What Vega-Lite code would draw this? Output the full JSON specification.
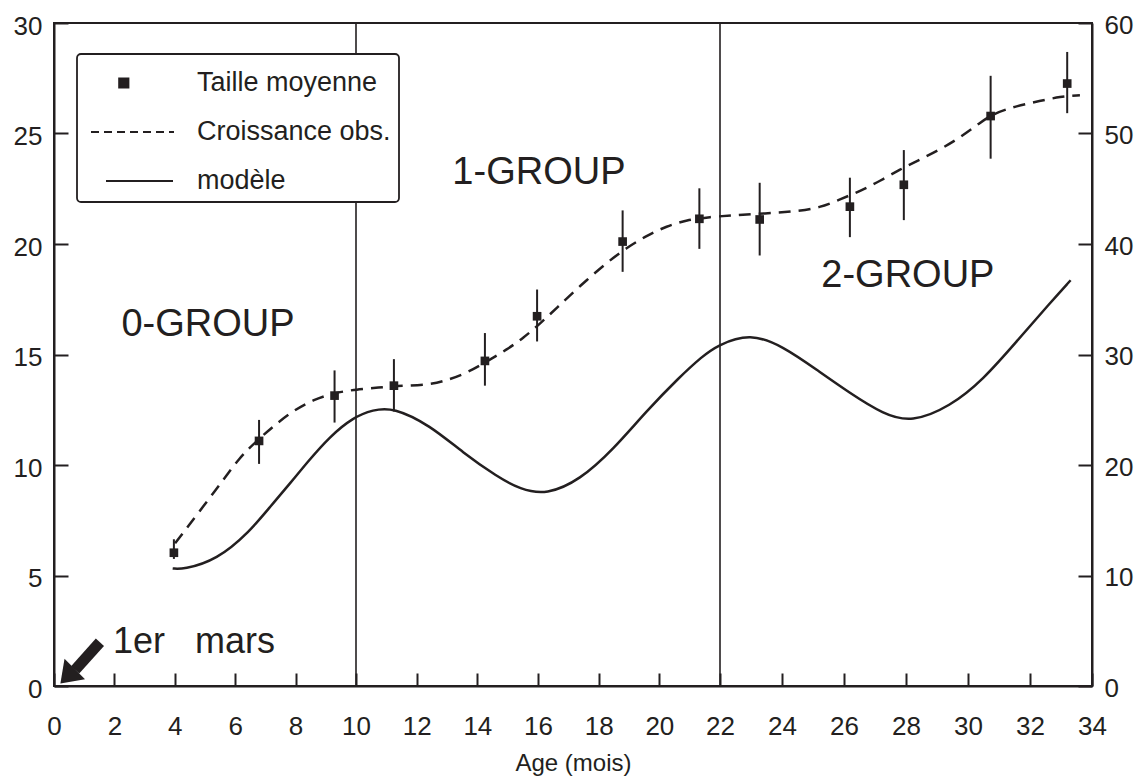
{
  "$schema": "https://vega.github.io/schema/vega-lite/v6.json",
  "width": 1038,
  "height": 663,
  "autosize": {"type": "none"},
  "padding": {"left": 54, "top": 23, "right": 52, "bottom": 96},
  "background": "white",
  "config": {
    "view": {"stroke": "#231f20", "strokeWidth": 2},
    "axis": {
      "domainColor": "#231f20", "domainWidth": 2,
      "tickColor": "#231f20", "tickWidth": 2,
      "labelColor": "#231f20", "labelFont": "Liberation Sans", "labelFontSize": 26,
      "titleColor": "#231f20", "titleFont": "Liberation Sans", "titleFontSize": 24, "titleFontWeight": "normal",
      "grid": false, "labelOverlap": false
    },
    "legend": {
      "orient": "none", "legendX": 23, "legendY": 31,
      "padding": 8, "rowPadding": 15,
      "symbolSize": 1600, "symbolOffset": 0, "labelOffset": 70,
      "labelFont": "Liberation Sans", "labelFontSize": 27, "labelColor": "#231f20", "labelLimit": 400,
      "strokeColor": "#231f20", "fillColor": "white", "cornerRadius": 4,
      "symbolStrokeWidth": 2.5
    }
  },
  "datasets": {
    "pts": [
      {"age": 3.97, "taille": 6.03, "lo": 5.75, "hi": 6.64},
      {"age": 6.79, "taille": 11.09, "lo": 10.05, "hi": 12.04},
      {"age": 9.29, "taille": 13.14, "lo": 11.92, "hi": 14.28},
      {"age": 11.25, "taille": 13.59, "lo": 12.42, "hi": 14.79},
      {"age": 14.25, "taille": 14.71, "lo": 13.59, "hi": 15.97},
      {"age": 15.97, "taille": 16.73, "lo": 15.59, "hi": 17.94},
      {"age": 18.79, "taille": 20.11, "lo": 18.74, "hi": 21.52},
      {"age": 21.32, "taille": 21.14, "lo": 19.78, "hi": 22.52},
      {"age": 23.28, "taille": 21.11, "lo": 19.48, "hi": 22.77},
      {"age": 26.19, "taille": 21.69, "lo": 20.31, "hi": 23.0},
      {"age": 27.93, "taille": 22.68, "lo": 21.08, "hi": 24.25},
      {"age": 30.73, "taille": 25.79, "lo": 23.86, "hi": 27.61},
      {"age": 33.2, "taille": 27.26, "lo": 25.92, "hi": 28.69}
    ],
    "obs": [
      {"age": 4.01, "taille": 6.46},
      {"age": 5.43, "taille": 8.99},
      {"age": 6.16, "taille": 10.38},
      {"age": 6.79, "taille": 11.18},
      {"age": 7.25, "taille": 11.74},
      {"age": 7.91, "taille": 12.45},
      {"age": 8.58, "taille": 12.95},
      {"age": 9.29, "taille": 13.27},
      {"age": 10.02, "taille": 13.42},
      {"age": 10.79, "taille": 13.51},
      {"age": 11.25, "taille": 13.57},
      {"age": 12.44, "taille": 13.63},
      {"age": 12.99, "taille": 13.83},
      {"age": 13.65, "taille": 14.16},
      {"age": 14.31, "taille": 14.68},
      {"age": 14.97, "taille": 15.22},
      {"age": 15.52, "taille": 15.75},
      {"age": 16.07, "taille": 16.4},
      {"age": 16.62, "taille": 17.11},
      {"age": 17.38, "taille": 18.1},
      {"age": 18.26, "taille": 19.15},
      {"age": 18.92, "taille": 19.83},
      {"age": 19.58, "taille": 20.37},
      {"age": 20.24, "taille": 20.81},
      {"age": 20.9, "taille": 21.08},
      {"age": 21.67, "taille": 21.23},
      {"age": 22.43, "taille": 21.29},
      {"age": 23.07, "taille": 21.36},
      {"age": 23.83, "taille": 21.41},
      {"age": 24.47, "taille": 21.49},
      {"age": 25.23, "taille": 21.64},
      {"age": 25.87, "taille": 22.02},
      {"age": 26.52, "taille": 22.39},
      {"age": 27.16, "taille": 22.85},
      {"age": 27.81, "taille": 23.38},
      {"age": 28.35, "taille": 23.75},
      {"age": 29.1, "taille": 24.28},
      {"age": 29.74, "taille": 24.81},
      {"age": 30.39, "taille": 25.49},
      {"age": 30.82, "taille": 25.9},
      {"age": 31.57, "taille": 26.25},
      {"age": 32.32, "taille": 26.47},
      {"age": 32.97, "taille": 26.67},
      {"age": 33.61, "taille": 26.73}
    ],
    "model": [
      {"age": 3.93, "val": 10.64},
      {"age": 4.27, "val": 10.55},
      {"age": 5.39, "val": 11.4},
      {"age": 6.49, "val": 14.0},
      {"age": 7.15, "val": 16.2},
      {"age": 7.87, "val": 18.5},
      {"age": 8.37, "val": 20.2},
      {"age": 9.14, "val": 22.6},
      {"age": 9.9, "val": 24.3},
      {"age": 10.56, "val": 25.0},
      {"age": 11.22, "val": 25.22},
      {"age": 12.44, "val": 23.6},
      {"age": 13.53, "val": 21.1},
      {"age": 14.65, "val": 18.95},
      {"age": 15.41, "val": 17.8},
      {"age": 16.29, "val": 17.3},
      {"age": 17.38, "val": 18.65},
      {"age": 18.47, "val": 21.37},
      {"age": 19.58, "val": 24.9},
      {"age": 20.68, "val": 28.0},
      {"age": 21.4, "val": 29.8},
      {"age": 21.92, "val": 30.85},
      {"age": 22.97, "val": 31.95},
      {"age": 24.04, "val": 30.73},
      {"age": 25.12, "val": 28.62},
      {"age": 26.19, "val": 26.51},
      {"age": 27.27, "val": 24.6},
      {"age": 28.18, "val": 23.85},
      {"age": 29.42, "val": 25.29},
      {"age": 30.49, "val": 27.72},
      {"age": 31.57, "val": 31.19},
      {"age": 32.65, "val": 34.67},
      {"age": 33.31, "val": 36.72}
    ],
    "bounds": [{"age": 10}, {"age": 22}],
    "groups": [
      {"age": 5.1, "taille": 16.35, "label": "0-GROUP"},
      {"age": 16.03, "taille": 23.2, "label": "1-GROUP"},
      {"age": 28.06, "taille": 18.53, "label": "2-GROUP"}
    ],
    "note": [{"age": 1.95, "taille": 2.0, "label": "1er\u00a0\u00a0\u00a0mars"}],
    "arrow": [{"age": 1.52, "taille": 1.98, "age2": 0.7, "taille2": 0.73, "tipAge": 0.45, "tipTaille": 0.44}]
  },
  "encoding": {
    "x": {
      "field": "age", "type": "quantitative",
      "scale": {"domain": [0, 10, 22, 34], "range": [0, 302, 666, 1038], "nice": false, "zero": false},
      "axis": {
        "values": [0, 2, 4, 6, 8, 10, 12, 14, 16, 18, 20, 22, 24, 26, 28, 30, 32, 34],
        "tickSize": -13, "labelPadding": 40, "labelFlush": false,
        "title": "Age (mois)", "titlePadding": 12
      }
    }
  },
  "layer": [
    {
      "layer": [
        {
          "data": {"name": "pts"},
          "mark": {"type": "rule", "color": "#231f20", "strokeWidth": 2},
          "encoding": {
            "y": {
              "field": "lo", "type": "quantitative",
              "scale": {"domain": [0, 30], "nice": false, "zero": true},
              "axis": {"orient": "left", "values": [0, 5, 10, 15, 20, 25, 30], "tickSize": -14, "labelPadding": 26, "labelOffset": 3, "title": null}
            },
            "y2": {"field": "hi"}
          }
        },
        {
          "data": {"name": "bounds"},
          "mark": {"type": "rule", "color": "#231f20", "strokeWidth": 1.6},
          "encoding": {}
        },
        {
          "data": {"name": "pts"},
          "mark": {"type": "point", "shape": "square", "filled": true, "size": 75, "opacity": 1},
          "encoding": {
            "y": {"field": "taille", "type": "quantitative"},
            "color": {
              "datum": "Taille moyenne",
              "scale": {"domain": ["Taille moyenne", "Croissance obs.", "modèle"], "range": ["#231f20", "#231f20", "#231f20"]},
              "legend": {
                "title": null,
                "encode": {
                  "legend": {"update": {"strokeWidth": {"value": 1.8}}},
                  "symbols": {
                    "update": {
                      "shape": {"signal": "datum.value === 'Taille moyenne' ? 'M0.66,-0.23h0.46v0.46h-0.46Z' : (datum.value === 'modèle' ? 'M0,0L3.35,0' : 'M-0.75,0L3.4,0')"},
                      "strokeDash": {"signal": "datum.value === 'Croissance obs.' ? [8, 5] : [1, 0]"},
                      "fill": {"signal": "datum.value === 'Taille moyenne' ? '#231f20' : 'transparent'"},
                      "stroke": {"signal": "datum.value === 'Taille moyenne' ? 'transparent' : '#231f20'"},
                      "strokeWidth": {"value": 2},
                      "opacity": {"value": 1}
                    }
                  }
                }
              }
            }
          }
        },
        {
          "data": {"name": "obs"},
          "mark": {"type": "line", "strokeWidth": 2.5, "strokeDash": [12, 8], "interpolate": "basis"},
          "encoding": {
            "y": {"field": "taille", "type": "quantitative"},
            "color": {
              "datum": "Croissance obs.",
              "legend": {
                "title": null,
                "encode": {
                  "legend": {"update": {"strokeWidth": {"value": 1.8}}},
                  "symbols": {
                    "update": {
                      "shape": {"signal": "datum.value === 'Taille moyenne' ? 'M0.66,-0.23h0.46v0.46h-0.46Z' : (datum.value === 'modèle' ? 'M0,0L3.35,0' : 'M-0.75,0L3.4,0')"},
                      "strokeDash": {"signal": "datum.value === 'Croissance obs.' ? [8, 5] : [1, 0]"},
                      "fill": {"signal": "datum.value === 'Taille moyenne' ? '#231f20' : 'transparent'"},
                      "stroke": {"signal": "datum.value === 'Taille moyenne' ? 'transparent' : '#231f20'"},
                      "strokeWidth": {"value": 2},
                      "opacity": {"value": 1}
                    }
                  }
                }
              }
            }
          }
        },
        {
          "data": {"name": "groups"},
          "mark": {"type": "text", "font": "Liberation Sans", "fontSize": 38, "align": "center", "baseline": "middle", "color": "#231f20"},
          "encoding": {
            "y": {"field": "taille", "type": "quantitative"},
            "text": {"field": "label"}
          }
        },
        {
          "data": {"name": "note"},
          "mark": {"type": "text", "font": "Liberation Sans", "fontSize": 36, "align": "left", "baseline": "middle", "color": "#231f20"},
          "encoding": {
            "y": {"field": "taille", "type": "quantitative"},
            "text": {"field": "label"}
          }
        },
        {
          "data": {"name": "arrow"},
          "mark": {"type": "rule", "color": "#231f20", "strokeWidth": 11, "strokeCap": "butt"},
          "encoding": {
            "y": {"field": "taille", "type": "quantitative"},
            "x2": {"field": "age2"},
            "y2": {"field": "taille2"}
          }
        },
        {
          "data": {"name": "arrow"},
          "mark": {"type": "point", "shape": "M0,-0.7L1,0.7L-1,0.7Z", "filled": true, "size": 841, "angle": 225, "color": "#231f20", "opacity": 1},
          "encoding": {
            "x": {"field": "tipAge", "type": "quantitative"},
            "y": {"field": "tipTaille", "type": "quantitative"}
          }
        }
      ]
    },
    {
      "data": {"name": "model"},
      "mark": {"type": "line", "strokeWidth": 2.5, "interpolate": "basis"},
      "encoding": {
        "y": {
          "field": "val", "type": "quantitative",
          "scale": {"domain": [0, 60], "nice": false, "zero": true},
          "axis": {"orient": "right", "values": [0, 10, 20, 30, 40, 50, 60], "tickSize": -14, "labelPadding": 26, "labelOffset": 2, "title": null}
        },
        "color": {
          "datum": "modèle",
          "legend": {
            "title": null,
            "encode": {
              "legend": {"update": {"strokeWidth": {"value": 1.8}}},
              "symbols": {
                "update": {
                  "shape": {"signal": "datum.value === 'Taille moyenne' ? 'M0.66,-0.23h0.46v0.46h-0.46Z' : (datum.value === 'modèle' ? 'M0,0L3.35,0' : 'M-0.75,0L3.4,0')"},
                  "strokeDash": {"signal": "datum.value === 'Croissance obs.' ? [8, 5] : [1, 0]"},
                  "fill": {"signal": "datum.value === 'Taille moyenne' ? '#231f20' : 'transparent'"},
                  "stroke": {"signal": "datum.value === 'Taille moyenne' ? 'transparent' : '#231f20'"},
                  "strokeWidth": {"value": 2},
                  "opacity": {"value": 1}
                }
              }
            }
          }
        }
      }
    }
  ],
  "resolve": {"scale": {"y": "independent"}}
}
